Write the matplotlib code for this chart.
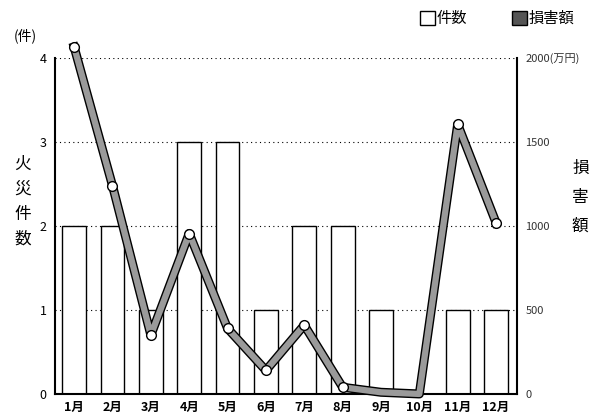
import numpy as np
import matplotlib.pyplot as plt
import matplotlib.patheffects as pe

plt.rcParams['font.family'] = ['Noto Sans CJK JP', 'DejaVu Sans']

months = ['1月', '2月', '3月', '4月', '5月', '6月', '7月', '8月', '9月', '10月', '11月', '12月']
fire_counts = [2, 2, 1, 3, 3, 1, 2, 2, 1, 0, 1, 1]          # 件
damage = [2065, 1240, 350, 955, 390, 140, 410, 40, 10, 0, 1605, 1020]   # 万円

fig = plt.figure(figsize=(5.91, 4.2), dpi=100)
ax = fig.add_axes([0.093, 0.062, 0.782, 0.8])
x = np.arange(len(months))

# 件数 bars
ax.bar(x, fire_counts, width=0.62, color='white', edgecolor='black', linewidth=1.0, zorder=2)
for yv in [1, 2, 3, 4]:
    ax.axhline(yv, color='black', lw=0.8, ls=(0, (1, 3)), zorder=1)
ax.set_xlim(-0.5, 11.55)
ax.set_ylim(0, 4)
ax.set_yticks([0, 1, 2, 3, 4])
ax.set_xticks(x)
ax.set_xticklabels(months, fontsize=9, fontweight='bold')
ax.tick_params(axis='y', labelsize=9, length=0, pad=6)
ax.tick_params(axis='x', length=0, pad=5)
ax.spines['top'].set_visible(False)
ax.spines['right'].set_visible(False)
ax.spines['left'].set_linewidth(1.5)
ax.spines['bottom'].set_linewidth(1.5)

# 損害額 line
ax2 = ax.twinx()
ax2.set_ylim(0, 2000)
ax2.set_yticks([0, 500, 1000, 1500, 2000])
ax2.set_yticklabels(['0', '500', '1000', '1500', '2000(万円)'], fontsize=8, color='#333333')
ax2.tick_params(axis='y', length=0, pad=6)
for s in ['top', 'left', 'bottom']:
    ax2.spines[s].set_visible(False)
ax2.spines['right'].set_linewidth(1.5)
ax2.plot(x, damage, color='#9a9a9a', lw=4.5, solid_joinstyle='round', clip_on=False, zorder=3,
         path_effects=[pe.Stroke(linewidth=6.5, foreground='black'), pe.Normal()])
ax2.plot(x, damage, ls='none', marker='o', markersize=7, markerfacecolor='white',
         markeredgecolor='black', markeredgewidth=1.0, clip_on=False, zorder=4,
         markevery=[0, 1, 2, 3, 4, 5, 6, 7, 10, 11])

# labels
fig.text(0.042, 0.915, '(件)', fontsize=10, ha='center', va='center')
fig.text(0.038, 0.52, '火\n災\n件\n数', fontsize=12, ha='center', va='center', linespacing=1.6)
fig.text(0.982, 0.53, '損\n害\n額', fontsize=12, ha='center', va='center', linespacing=1.9)

# legend
fig.patches.append(plt.Rectangle((0.711, 0.94), 0.025, 0.033, transform=fig.transFigure,
                                 facecolor='white', edgecolor='black', lw=1))
fig.text(0.739, 0.957, '件数', fontsize=11, ha='left', va='center')
fig.patches.append(plt.Rectangle((0.866, 0.94), 0.025, 0.033, transform=fig.transFigure,
                                 facecolor='#555555', edgecolor='black', lw=1))
fig.text(0.894, 0.957, '損害額', fontsize=11, ha='left', va='center')

fig.savefig('out.png', dpi=100)
